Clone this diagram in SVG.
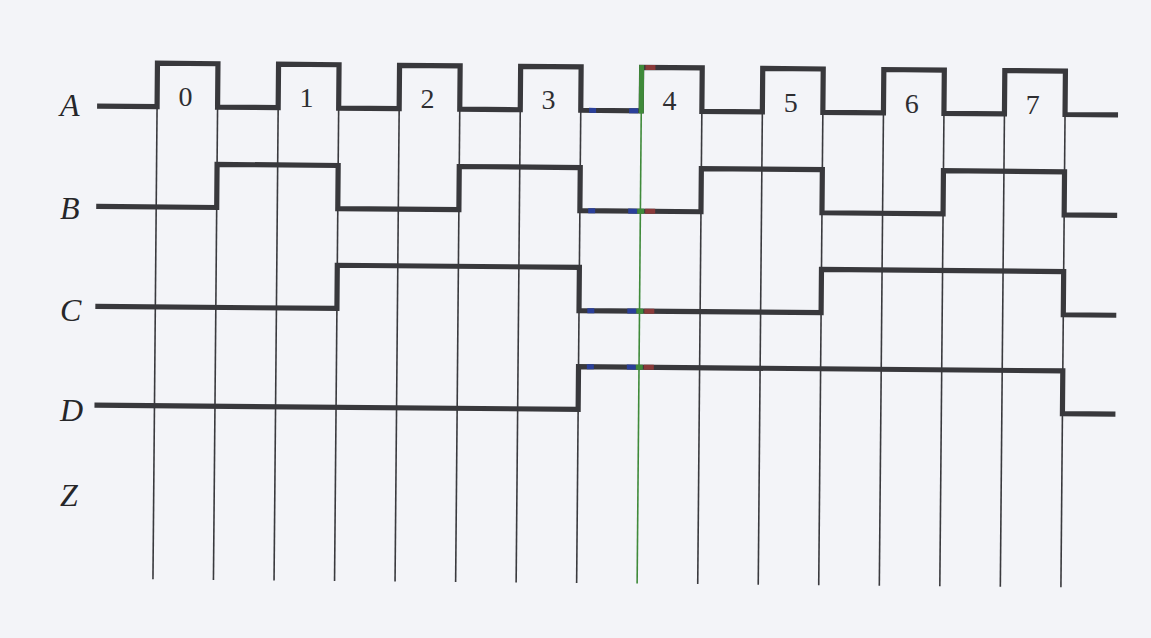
<svg xmlns="http://www.w3.org/2000/svg" width="1151" height="638" viewBox="0 0 1151 638">
<style>
.wave{fill:none;stroke:#38383c;stroke-width:5.2;stroke-linejoin:miter;stroke-linecap:butt}
.grid{stroke:#3a3a3e;stroke-width:1.6}
.lbl{font-family:"Liberation Serif","DejaVu Serif",serif;font-style:italic;font-size:32px;fill:#262629}
.num{font-family:"Liberation Serif","DejaVu Serif",serif;font-size:28px;fill:#2e2e32;text-anchor:middle}
.blue{stroke:#2a3f9a;stroke-width:5}
.red{stroke:#8a3a3a;stroke-width:5}
.green{stroke:#3f8a3a}
</style>
<rect width="1151" height="638" fill="#f3f4f8"/>
<g transform="rotate(0.5)">
<g id="connectors">
<g id="grid">
<line class="grid" x1="158" y1="105" x2="158" y2="578"/>
<line class="grid" x1="218.5" y1="105" x2="218.5" y2="578"/>
<line class="grid" x1="279.1" y1="105" x2="279.1" y2="578"/>
<line class="grid" x1="339.6" y1="105" x2="339.6" y2="578"/>
<line class="grid" x1="400.1" y1="105" x2="400.1" y2="578"/>
<line class="grid" x1="460.7" y1="105" x2="460.7" y2="578"/>
<line class="grid" x1="521.2" y1="105" x2="521.2" y2="578"/>
<line class="grid" x1="581.7" y1="105" x2="581.7" y2="578"/>
<line class="grid" x1="702.8" y1="105" x2="702.8" y2="578"/>
<line class="grid" x1="763.3" y1="105" x2="763.3" y2="578"/>
<line class="grid" x1="823.8" y1="105" x2="823.8" y2="578"/>
<line class="grid" x1="884.4" y1="105" x2="884.4" y2="578"/>
<line class="grid" x1="944.9" y1="105" x2="944.9" y2="578"/>
<line class="grid" x1="1005.4" y1="105" x2="1005.4" y2="578"/>
<line class="grid" x1="1066" y1="105" x2="1066" y2="578"/>
</g>
</g>
<g id="wave-A"><path class="wave" d="M98 105.2 H158 V61.8 H218.5 V105.2 H279.1 V61.8 H339.6 V105.2 H400.1 V61.8 H460.7 V105.2 H521.2 V61.8 H581.7 V105.2 H642.2 V61.8 H702.8 V105.2 H763.3 V61.8 H823.8 V105.2 H884.4 V61.8 H944.9 V105.2 H1005.4 V61.8 H1066 V105.2 H1119"/></g>
<g id="wave-B"><path class="wave" d="M98 205.6 H218.5 V162.5 H339.6 V205.6 H460.7 V162.5 H581.7 V205.6 H702.8 V162.5 H823.8 V205.6 H944.9 V162.5 H1066 V205.6 H1119"/></g>
<g id="wave-C"><path class="wave" d="M98 305.5 H339.6 V262.3 H581.7 V305.5 H823.8 V262.3 H1066 V305.5 H1119"/></g>
<g id="wave-D"><path class="wave" d="M98 404.3 H581.7 V361.6 H1066 V404.3 H1119"/></g>
<g id="artifacts">
<line class="green" stroke-width="1.6" x1="642.2" y1="105" x2="642.2" y2="578"/>
<line class="green" stroke-width="5" x1="642.2" y1="59.3" x2="642.2" y2="107.7"/>
<line class="red" x1="646" y1="61.8" x2="656" y2="61.8"/>
<line class="blue" x1="590" y1="105.2" x2="597" y2="105.2"/>
<line class="blue" x1="630" y1="105.2" x2="639" y2="105.2"/>
<line class="blue" x1="590" y1="205.6" x2="597" y2="205.6"/>
<line class="blue" x1="630" y1="205.6" x2="639" y2="205.6"/>
<line class="green" stroke-width="5" x1="639" y1="205.6" x2="646" y2="205.6"/>
<line class="red" x1="647" y1="205.6" x2="657" y2="205.6"/>
<line class="blue" x1="590" y1="305.5" x2="597" y2="305.5"/>
<line class="blue" x1="630" y1="305.5" x2="639" y2="305.5"/>
<line class="green" stroke-width="5" x1="639" y1="305.5" x2="646" y2="305.5"/>
<line class="red" x1="647" y1="305.5" x2="657" y2="305.5"/>
<line class="blue" x1="590" y1="361.6" x2="597" y2="361.6"/>
<line class="blue" x1="630" y1="361.6" x2="639" y2="361.6"/>
<line class="green" stroke-width="5" x1="639" y1="361.6" x2="646" y2="361.6"/>
<line class="red" x1="647" y1="361.6" x2="657" y2="361.6"/>
</g>
</g>
<g id="labels">
<text class="lbl" x="60" y="116">A</text>
<text class="lbl" x="60" y="219">B</text>
<text class="lbl" x="60" y="321">C</text>
<text class="lbl" x="60" y="421">D</text>
<text class="lbl" x="60" y="506">Z</text>
</g>
<g id="numbers">
<text class="num" x="185.4" y="106.2">0</text>
<text class="num" x="306.4" y="107.3">1</text>
<text class="num" x="427.5" y="108.3">2</text>
<text class="num" x="548.6" y="109.4">3</text>
<text class="num" x="669.6" y="110.4">4</text>
<text class="num" x="790.7" y="111.5">5</text>
<text class="num" x="911.7" y="112.5">6</text>
<text class="num" x="1032.8" y="113.6">7</text>
</g>
</svg>
